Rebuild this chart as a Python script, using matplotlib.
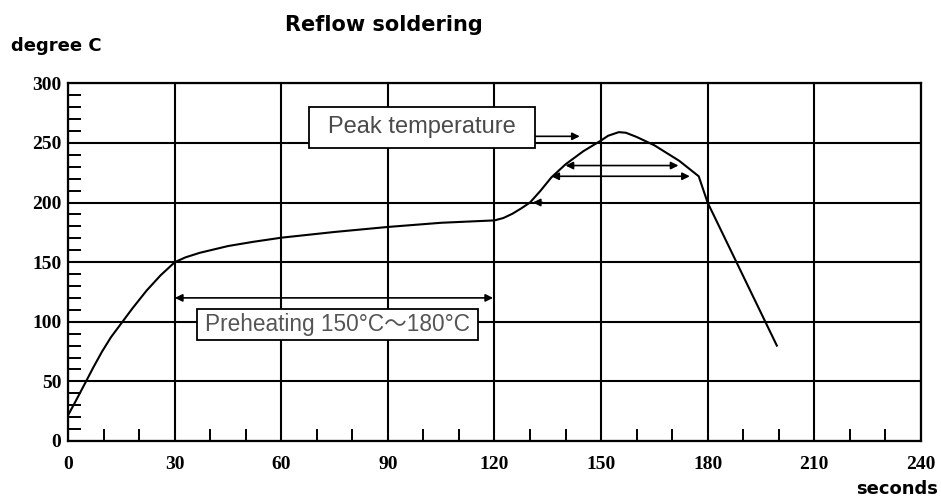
import numpy as np
import matplotlib
matplotlib.use('Agg')
import matplotlib.pyplot as plt
from matplotlib.ticker import MultipleLocator
from matplotlib.patches import Rectangle

# reflow profile (seconds, degree C)
t_s = [0, 2, 3.5, 5, 7, 9.5, 12, 15, 18, 22, 26, 30, 33, 37, 45, 52, 60, 75, 90,
       105, 120, 122.5, 125, 127.5, 130, 133, 136, 140, 145, 150, 152, 155, 157,
       160, 165, 172, 177.5, 180, 199.5]
temp_c = [22, 33, 41.5, 50, 61.5, 75, 87, 99, 111, 126, 139, 150, 154, 157.8, 163.5,
          167, 170.5, 175.3, 179.5, 183, 185, 187, 190.5, 195, 200, 210, 221, 232,
          243, 252, 256, 259, 258.5, 255, 248, 235, 222, 200, 80]

x_ticks = [0, 30, 60, 90, 120, 150, 180, 210, 240]
y_ticks = [0, 50, 100, 150, 200, 250, 300]

# annotation arrows: (start, end, level)
preheat_arrow = (30, 119.6, 120)
dwell_arrows = [(140, 171.8, 231), (136, 175, 222)]
rise_arrow = (133.5, 130.8, 200)
peak_arrow = (131.4, 144, 255.5)

peak_label = 'Peak temperature'
preheat_label = 'Preheating 150°C～180°C'

fig = plt.figure(figsize=(9.41, 4.98), dpi=100)
ax = fig.add_axes([0.0726, 0.1145, 0.9058, 0.7183])

ax.set_xlim(0, 240)
ax.set_ylim(0, 300)
ax.set_xticks(x_ticks)
ax.set_yticks(y_ticks)
ax.xaxis.set_minor_locator(MultipleLocator(10))
ax.yaxis.set_minor_locator(MultipleLocator(10))
ax.grid(True, which='major', color='black', linewidth=1.5)
ax.tick_params(which='major', length=0, labelsize=14)
ax.tick_params(axis='x', which='major', pad=11)
ax.tick_params(axis='y', which='major', pad=5)
ax.tick_params(which='minor', direction='in', length=9, width=1.4, color='black')
ax.tick_params(axis='x', which='minor', top=False)
ax.tick_params(axis='y', which='minor', right=False)
for lab in ax.get_xticklabels() + ax.get_yticklabels():
    lab.set_fontweight('bold')
    lab.set_family('Liberation Serif')
for sp in ax.spines.values():
    sp.set_linewidth(1.6)

ax.plot(t_s, temp_c, color='black', linewidth=1.5, zorder=4)

arrow_kw = dict(arrowstyle='<|-|>', color='black', lw=1.2, mutation_scale=11,
                shrinkA=0, shrinkB=0)
one_way = dict(arrowstyle='-|>', color='black', lw=1.2, mutation_scale=11,
               shrinkA=0, shrinkB=0)
ax.annotate('', xy=(preheat_arrow[1], preheat_arrow[2]),
            xytext=(preheat_arrow[0], preheat_arrow[2]), arrowprops=arrow_kw)
for a, b, lvl in dwell_arrows:
    ax.annotate('', xy=(b, lvl), xytext=(a, lvl), arrowprops=arrow_kw)
ax.annotate('', xy=(rise_arrow[1], rise_arrow[2]), xytext=(rise_arrow[0], rise_arrow[2]),
            arrowprops=one_way)
ax.annotate('', xy=(peak_arrow[1], peak_arrow[2]), xytext=(peak_arrow[0], peak_arrow[2]),
            arrowprops=one_way)

# label boxes
ax.add_patch(Rectangle((67.7, 246), 131.4 - 67.7, 280 - 246, facecolor='white',
                       edgecolor='black', linewidth=1.3, zorder=5))
ax.text((67.7 + 131.4) / 2, 263, peak_label, fontsize=17, color='#4a4a4a',
        family=['Liberation Sans', 'DejaVu Sans'], ha='center', va='center', zorder=6)
ax.add_patch(Rectangle((36.1, 85), 115.3 - 36.1, 111 - 85, facecolor='white',
                       edgecolor='black', linewidth=1.3, zorder=5))
ax.text((36.1 + 115.3) / 2, 97.5, preheat_label, fontsize=16.3, color='#555555',
        family=['Liberation Sans', 'Noto Sans CJK JP'], ha='center', va='center', zorder=6)

fig.text(285 / 941, 1 - 25 / 498, 'Reflow soldering', fontsize=15, fontweight='bold',
         family='DejaVu Sans', ha='left', va='center')
fig.text(11 / 941, 1 - 46 / 498, 'degree C', fontsize=13, fontweight='bold',
         family='DejaVu Sans', ha='left', va='center')
fig.text(938 / 941, 1 - 489 / 498, 'seconds', fontsize=13, fontweight='bold',
         family='DejaVu Sans', ha='right', va='center')

fig.savefig('out.png', dpi=100)
